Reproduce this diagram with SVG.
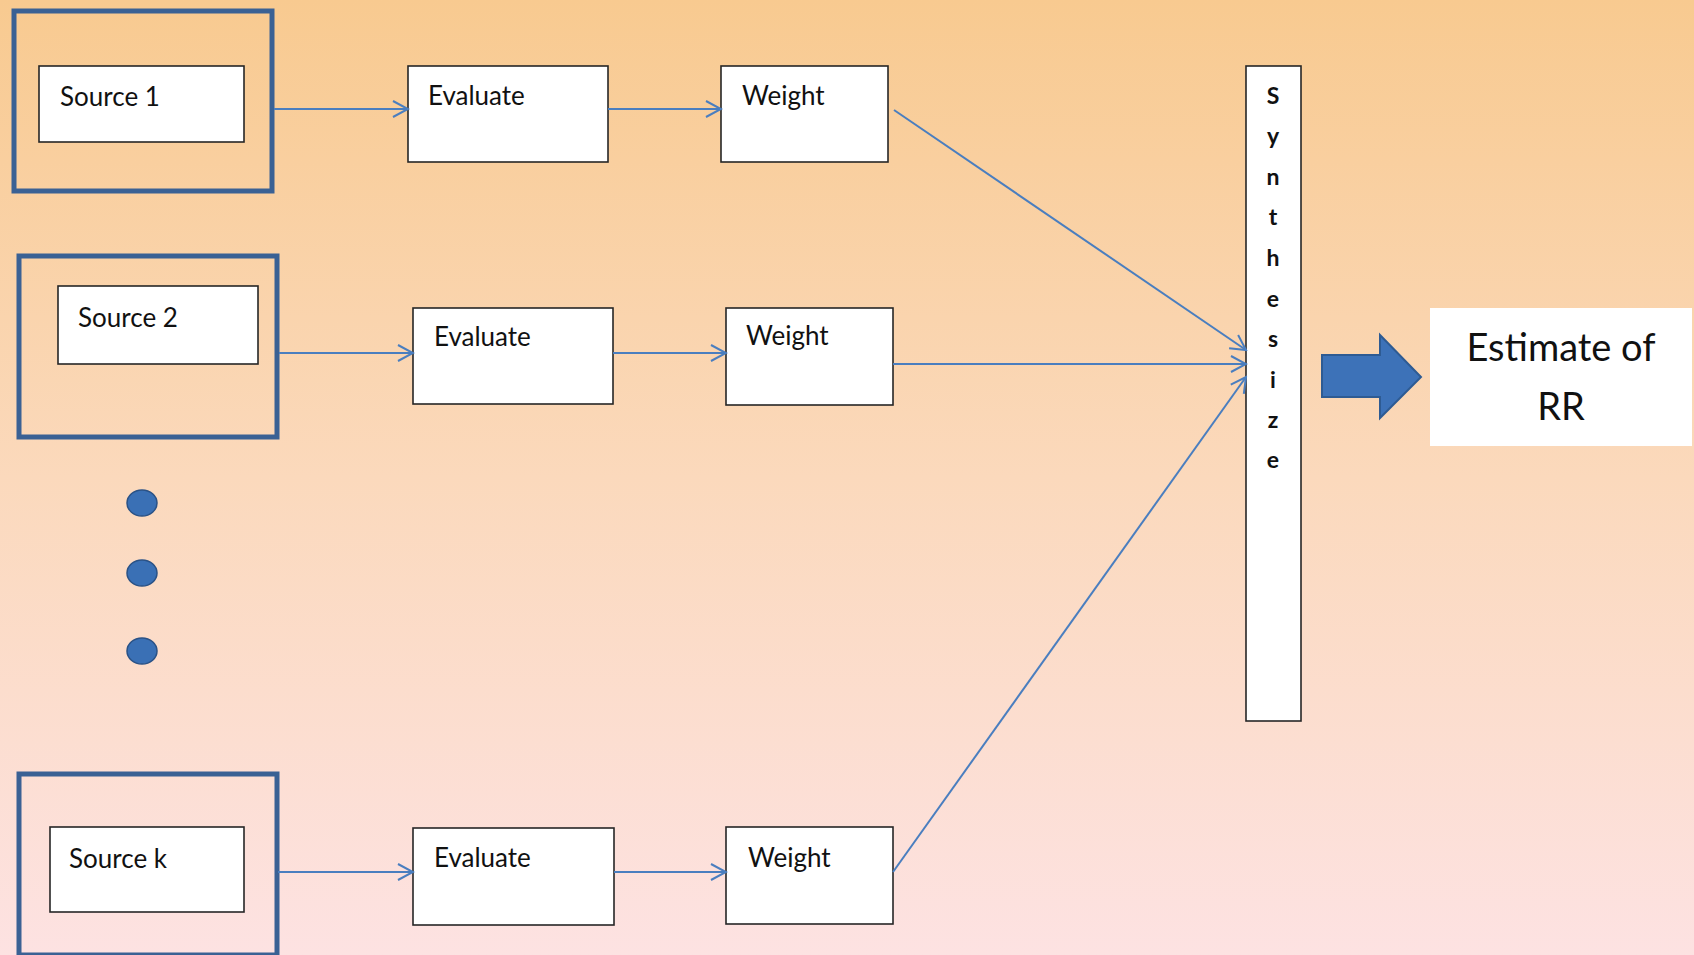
<svg xmlns="http://www.w3.org/2000/svg" width="1694" height="955" viewBox="0 0 1694 955">
<defs>
<linearGradient id="bg" x1="0" y1="0" x2="0" y2="1">
<stop offset="0" stop-color="#f8ca90"/>
<stop offset="0.5" stop-color="#fbd9bc"/>
<stop offset="1" stop-color="#fde2e2"/>
</linearGradient>
<marker id="ah" viewBox="-2 -10 19 20" refX="15" refY="0" markerWidth="19" markerHeight="20" markerUnits="userSpaceOnUse" orient="auto">
<path d="M0,-8 L15,0 L0,8" fill="none" stroke="#4a7ebf" stroke-width="2"/>
</marker>
<style>
.outer{fill:none;stroke:#3a6194;stroke-width:5}
.box{fill:#ffffff;stroke:#262626;stroke-width:1.6}
.lbl{font-family:Lato,"Liberation Sans",sans-serif;font-size:26px;fill:#111}
.syn{font-family:Lato,"Liberation Sans",sans-serif;font-size:23px;font-weight:bold;fill:#111;text-anchor:middle}
.big{font-family:Lato,"Liberation Sans",sans-serif;font-size:38px;fill:#111;text-anchor:middle}
.con{stroke:#4a7ebf;stroke-width:2;fill:none;marker-end:url(#ah)}
.dot{fill:#3a70b5;stroke:#2a5286;stroke-width:1.5}
</style>
</defs>
<rect width="1694" height="955" fill="url(#bg)"/>

<g id="source1">
<rect class="outer" x="14" y="11" width="258" height="180"/>
<rect class="box" x="39" y="66" width="205" height="76"/>
<text class="lbl" x="60" y="106">Source 1</text>
</g>
<g id="source2">
<rect class="outer" x="19" y="256" width="258" height="181"/>
<rect class="box" x="58" y="286" width="200" height="78"/>
<text class="lbl" x="78" y="327">Source 2</text>
</g>
<g id="sourcek">
<rect class="outer" x="19" y="774" width="258" height="181"/>
<rect class="box" x="50" y="827" width="194" height="85"/>
<text class="lbl" x="69" y="868">Source k</text>
</g>

<g id="dots">
<ellipse class="dot" cx="142" cy="503" rx="15" ry="13"/>
<ellipse class="dot" cx="142" cy="573" rx="15" ry="13"/>
<ellipse class="dot" cx="142" cy="651" rx="15" ry="13"/>
</g>

<g id="evaluate1">
<rect class="box" x="408" y="66" width="200" height="96"/>
<text class="lbl" x="428" y="105">Evaluate</text>
</g>
<g id="evaluate2">
<rect class="box" x="413" y="308" width="200" height="96"/>
<text class="lbl" x="434" y="346">Evaluate</text>
</g>
<g id="evaluatek">
<rect class="box" x="413" y="828" width="201" height="97"/>
<text class="lbl" x="434" y="867">Evaluate</text>
</g>

<g id="weight1">
<rect class="box" x="721" y="66" width="167" height="96"/>
<text class="lbl" x="742" y="105">Weight</text>
</g>
<g id="weight2">
<rect class="box" x="726" y="308" width="167" height="97"/>
<text class="lbl" x="746" y="345">Weight</text>
</g>
<g id="weightk">
<rect class="box" x="726" y="827" width="167" height="97"/>
<text class="lbl" x="748" y="867">Weight</text>
</g>

<g id="synthesize">
<rect class="box" x="1246" y="66" width="55" height="655"/>
<text class="syn" x="1273" y="104">S</text>
<text class="syn" x="1273" y="144">y</text>
<text class="syn" x="1273" y="185">n</text>
<text class="syn" x="1273" y="225">t</text>
<text class="syn" x="1273" y="266">h</text>
<text class="syn" x="1273" y="307">e</text>
<text class="syn" x="1273" y="347">s</text>
<text class="syn" x="1273" y="388">i</text>
<text class="syn" x="1273" y="428">z</text>
<text class="syn" x="1273" y="468">e</text>
</g>

<g id="bigarrow">
<path d="M1322,355 L1380,355 L1380,335 L1421,377 L1380,418 L1380,397 L1322,397 Z" fill="#3d72b8" stroke="#2e5b93" stroke-width="2"/>
</g>

<g id="estimate">
<rect x="1430" y="308" width="262" height="138" fill="#ffffff"/>
<text class="big" x="1561" y="361">Estimate of</text>
<text class="big" x="1561" y="420">RR</text>
</g>

<g id="connectors">
<line class="con" x1="274" y1="109" x2="408" y2="109"/>
<line class="con" x1="608" y1="109" x2="721" y2="109"/>
<line class="con" x1="279" y1="353" x2="413" y2="353"/>
<line class="con" x1="613" y1="353" x2="726" y2="353"/>
<line class="con" x1="278" y1="872" x2="413" y2="872"/>
<line class="con" x1="614" y1="872" x2="726" y2="872"/>
<line class="con" x1="894" y1="110" x2="1246" y2="350"/>
<line class="con" x1="893" y1="364" x2="1246" y2="364"/>
<line class="con" x1="893" y1="872" x2="1246" y2="377"/>
</g>
</svg>
